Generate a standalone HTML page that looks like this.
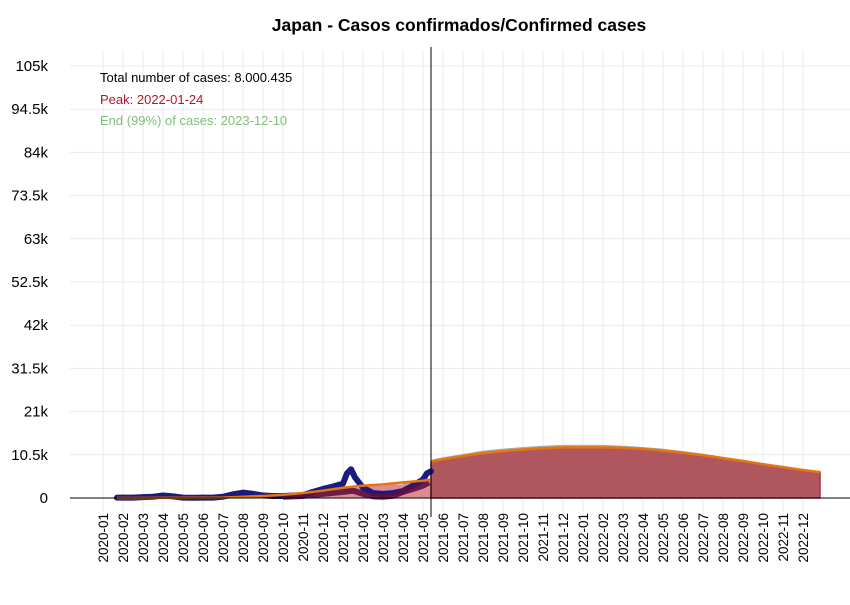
<!DOCTYPE html>
<html><head><meta charset="utf-8"><style>
body{margin:0;background:#fff;font-family:"Liberation Sans",sans-serif}
svg text{font-family:"Liberation Sans",sans-serif}
</style></head><body>
<svg id="chart" width="850" height="600" xmlns="http://www.w3.org/2000/svg">
<rect width="850" height="600" fill="#fff"/>
<text x="459" y="31" text-anchor="middle" font-size="17.5" font-weight="bold">Japan - Casos confirmados/Confirmed cases</text>
<g id="grid"></g><g id="marks"></g><g id="axes"></g>
<text x="100" y="82" font-size="13" fill="#000">Total number of cases: 8.000.435</text>
<text x="100" y="104" font-size="13" fill="#b2182b">Peak: 2022-01-24</text>
<text x="100" y="125" font-size="13" fill="#7fbf7b">End (99%) of cases: 2023-12-10</text>
</svg>
<script>
const yTicks=[0,10.5,21,31.5,42,52.5,63,73.5,84,94.5,105];
const yTickLabels=["0","10.5k","21k","31.5k","42k","52.5k","63k","73.5k","84k","94.5k","105k"];
const xTickLabels=["2020-01","2020-02","2020-03","2020-04","2020-05","2020-06","2020-07","2020-08","2020-09","2020-10","2020-11","2020-12","2021-01","2021-02","2021-03","2021-04","2021-05","2021-06","2021-07","2021-08","2021-09","2021-10","2021-11","2021-12","2022-01","2022-02","2022-03","2022-04","2022-05","2022-06","2022-07","2022-08","2022-09","2022-10","2022-11","2022-12"];
// months since 2020-01 ; values in thousands
const obsMonths=[0.7,1,1.5,2,2.5,3,3.5,4,4.5,5,5.5,6,6.5,7,7.5,8,8.5,9,9.5,10,10.5,11,11.5,12,12.2,12.4,12.6,13,13.5,14,14.5,15,15.5,16,16.2,16.4];
const obsCases=[0.1,0.1,0.1,0.2,0.3,0.6,0.4,0.1,0.05,0.1,0.1,0.3,0.9,1.3,1.0,0.6,0.5,0.5,0.6,0.7,1.5,2.2,2.8,3.5,6.0,7.0,5.0,2.5,1.2,1.0,1.2,1.7,3.0,4.5,6.0,6.5];
const fitMonths=[0.7,6,8,9,10,11,12,13,14,15,16,16.4];
const fitCases=[0,0.1,0.5,0.8,1.2,1.8,2.5,3.0,3.3,3.8,4.2,4.5];
const resMonths=[9,10,11,12,12.5,13,13.5,14,14.5,15,15.5,16,16.3];
const resCases=[0.3,0.5,1.0,1.5,1.8,1.0,0.4,0.3,0.5,1.5,2.2,3.0,3.8];
const fcMonths=[16.4,16.6,17,18,19,20,21,22,23,24,25,26,27,28,29,30,31,32,33,34,35,35.85];
const fcCases=[8.8,9.1,9.4,10.2,10.9,11.4,11.8,12.1,12.3,12.3,12.3,12.2,11.9,11.5,11.0,10.4,9.7,9.0,8.2,7.5,6.8,6.3];
const fcUpper=[9.2,9.5,9.9,10.7,11.5,12.0,12.4,12.7,12.9,12.9,12.9,12.7,12.4,12.0,11.4,10.8,10.0,9.3,8.5,7.7,7.0,6.5];
const cutMonth=16.4;
const NS="http://www.w3.org/2000/svg";
const x=m=>103+20*m, y=v=>498-v*432/105;
function mk(p,t,a){const e=document.createElementNS(NS,t);for(const k in a)e.setAttribute(k,a[k]);document.getElementById(p).appendChild(e);return e;}
yTicks.forEach((v,i)=>{
 const g=mk('grid','line',{x1:70,x2:850,y1:y(v),y2:y(v),stroke:'#ebebeb'});
 
 
 const t=mk('axes','text',{x:48,y:y(v)+5,'text-anchor':'end','font-size':15,fill:'#000'});
 t.textContent=yTickLabels[i];
 
 
});
xTickLabels.forEach((l,i)=>{
 const g=mk('grid','line',{x1:x(i),x2:x(i),y1:50,y2:515,stroke:'#ebebeb'});
 
 
 const t=mk('axes','text',{x:0,y:0,'text-anchor':'end','font-size':13.5,transform:`translate(${x(i)+5},513) rotate(-90)`});
 t.textContent=l;
 
 
});
function pts(ms,vs){return ms.map((m,i)=>x(m)+','+y(vs[i])).join(' ');}
function step(ms,vs){let s=[];ms.forEach((m,i)=>{if(i>0)s.push(x(m)+','+y(vs[i-1]));s.push(x(m)+','+y(vs[i]));});return s.join(' ');}
const last=fcMonths.length-1;
let a=mk('marks','polygon',{points:x(fitMonths[0])+','+y(0)+' '+step(fitMonths,fitCases)+' '+x(cutMonth)+','+y(0),fill:'#e08a92'});

a=mk('marks','polygon',{points:x(fcMonths[0])+','+y(0)+' '+pts(fcMonths,fcUpper)+' '+x(fcMonths[last])+','+y(0),fill:'#aaaaaa'});

a=mk('marks','polygon',{points:x(fcMonths[0])+','+y(0)+' '+pts(fcMonths,fcCases)+' '+x(fcMonths[last])+','+y(0),fill:'#b0565e',stroke:'#a83240','stroke-width':1.5});

a=mk('marks','polyline',{points:pts(obsMonths,obsCases),fill:'none',stroke:'#1a1a80','stroke-width':6,'stroke-linejoin':'round','stroke-linecap':'round'});

a=mk('marks','polyline',{points:pts(resMonths,resCases),fill:'none',stroke:'#5e1040','stroke-width':6,'stroke-linejoin':'round',opacity:0.9});

a=mk('marks','polyline',{points:pts(fitMonths,fitCases),fill:'none',stroke:'#e5750f','stroke-width':2.5});

a=mk('marks','polyline',{points:pts(fcMonths,fcCases),fill:'none',stroke:'#e5750f','stroke-width':2.5});

a=mk('axes','line',{x1:70,x2:850,y1:498,y2:498,stroke:'#000'});

a=mk('axes','line',{x1:x(cutMonth),x2:x(cutMonth),y1:47,y2:517,stroke:'#000'});

</script>
</body></html>
